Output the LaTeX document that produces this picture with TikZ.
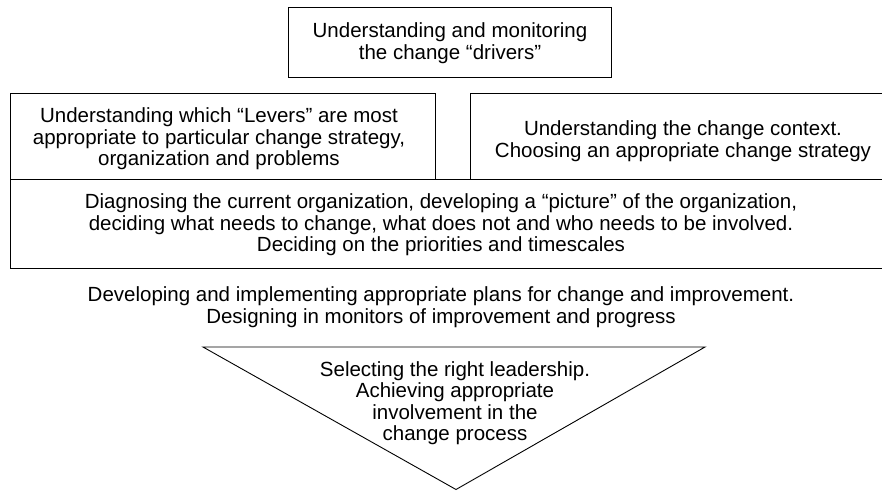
\documentclass[tikz,border=0pt]{standalone}
\usepackage{fontspec}
\setmainfont{Liberation Sans}
\begin{document}
\begin{tikzpicture}[x=1pt,y=-1pt,
  frame/.style={draw, line width=0.9pt, inner sep=0pt},
  label/.style={align=center, inner sep=0pt, font=\fontsize{20.5}{21.5}\selectfont},
]
\useasboundingbox (0,0) rectangle (882,490);
\clip (0,0) rectangle (882,490);

% boxes (the two on the right run past the page edge)
\node[frame, minimum width=323, minimum height=70] (drivers) at (449.5,42) {};
\node[frame, minimum width=425, minimum height=86] (levers) at (222.5,136) {};
\node[frame, minimum width=426, minimum height=86] (context) at (683,136) {};
\node[frame, minimum width=886, minimum height=89] (diagnose) at (453,223.5) {};

% inverted triangle
\coordinate (tl) at (203,347);
\coordinate (tr) at (705,347);
\coordinate (apex) at (456,489.5);
\draw[line width=0.9pt, line join=miter] (tl) -- (tr) -- (apex) -- cycle;

% texts
\node[label] (driverstxt) at (450,43) {Understanding and monitoring\\the change “drivers”};
\node[label] (leverstxt) at (219,139) {Understanding which “Levers” are most\\appropriate to particular change strategy,\\organization and problems};
\node[label] (contexttxt) at (683,141) {Understanding the change context.\\Choosing an appropriate change strategy};
\node[label] (diagnosetxt) at (441,225) {Diagnosing the current organization, developing a “picture” of the organization,\\deciding what needs to change, what does not and who needs to be involved.\\Deciding on the priorities and timescales};
\node[label] (plans) at (441,307) {Developing and implementing appropriate plans for change and improvement.\\Designing in monitors of improvement and progress};
\node[label] (leadership) at (455,403) {Selecting the right leadership.\\Achieving appropriate\\involvement in the\\change process};
\end{tikzpicture}
\end{document}
